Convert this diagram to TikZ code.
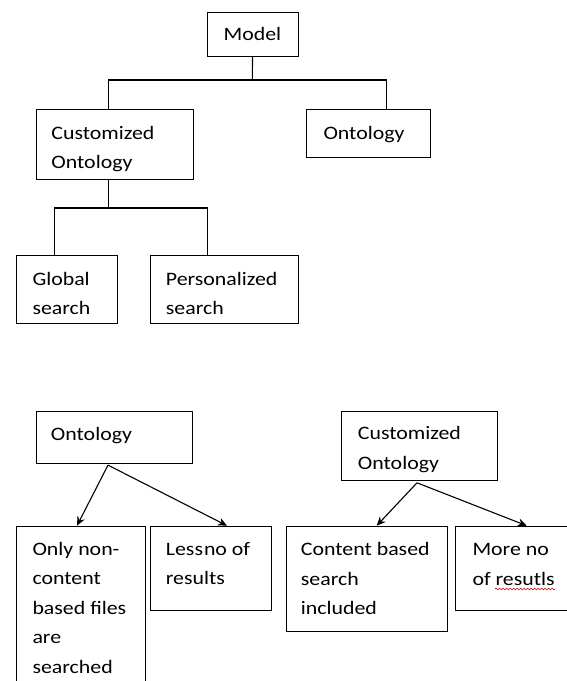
\documentclass[tikz,border=0pt]{standalone}
\usepackage{fontspec}
\setmainfont{Carlito}[FakeStretch=1.15]
\usetikzlibrary{arrows.meta,decorations.pathmorphing}
\tikzset{
  box/.style={draw, line width=1.1pt, anchor=north west, inner sep=0pt},
  txt/.style={anchor=base west, inner sep=0pt, font=\fontsize{19}{29.5}\selectfont},
  conn/.style={line width=1.1pt},
  arr/.style={line width=1.1pt, -{Stealth[length=9pt,width=8pt]}},
}
\newcommand{\lines}[1]{\parbox[t]{160pt}{#1}}
\begin{document}
\begin{tikzpicture}[x=1pt,y=-1pt]
\useasboundingbox (0,0) rectangle (567,681);
\clip (0,0) rectangle (567,681);
% top tree
\node[box, minimum width=91pt, minimum height=43.7pt] (model) at (206.5,12.3) {};
\node[txt] (modelt) at ([xshift=17pt,yshift=-28pt]model.north west) {Model};
\node[box, minimum width=157pt, minimum height=70pt] (cust) at (35.7,109.3) {};
\node[txt] (custt) at ([xshift=15.5pt,yshift=-30pt]cust.north west) {\lines{Customized\\Ontology}};
\node[box, minimum width=124pt, minimum height=47.4pt] (ont) at (306,109.3) {};
\node[txt] (ontt) at ([xshift=17.3pt,yshift=-30.5pt]ont.north west) {Ontology};
\node[box, minimum width=100.5pt, minimum height=68pt] (glob) at (16,255.3) {};
\node[txt] (globt) at ([xshift=16.3pt,yshift=-29.7pt]glob.north west) {\lines{Global\\search}};
\node[box, minimum width=148pt, minimum height=68pt] (pers) at (150,255.3) {};
\node[txt] (perst) at ([xshift=15.7pt,yshift=-29.7pt]pers.north west) {\lines{Personalized\\search}};
\coordinate (j1) at (252.3,80);
\coordinate (j2) at (108.3,208);
\draw[conn] (model.south) -- (j1);
\draw[conn] ([xshift=72.6pt]cust.north west) |- (j1) -| ([xshift=80.7pt]ont.north west);
\draw[conn] ([xshift=72.6pt]cust.south west) -- (j2);
\draw[conn] ([xshift=38.3pt]glob.north west) |- (j2) -| ([xshift=57.3pt]pers.north west);
% bottom left
\node[box, minimum width=156.3pt, minimum height=52pt] (ont2) at (35.7,410.7) {};
\node[txt] (ont2t) at ([xshift=15pt,yshift=-29.3pt]ont2.north west) {Ontology};
\node[box, minimum width=129pt, minimum height=170pt] (only) at (16,525.7) {};
\node[txt] (onlyt) at ([xshift=16.3pt,yshift=-29.3pt]only.north west) {\lines{Only non-\\content\\based files\\are\\searched}};
\node[box, minimum width=121pt, minimum height=84pt] (less) at (150,525.7) {};
\node[txt] (lesst) at ([xshift=15.7pt,yshift=-29.3pt]less.north west) {\lines{Less\kern1pt no of\\results}};
\draw[arr] ([xshift=72.3pt,yshift=-1.3pt]ont2.south west) -- ([xshift=61pt]only.north west);
\draw[arr] ([xshift=72.3pt,yshift=-1.3pt]ont2.south west) -- ([xshift=77pt]less.north west);
% bottom right
\node[box, minimum width=156.3pt, minimum height=69.5pt] (cust2) at (341,410.7) {};
\node[txt] (cust2t) at ([xshift=16.7pt,yshift=-28.8pt]cust2.north west) {\lines{Customized\\Ontology}};
\node[box, minimum width=160.7pt, minimum height=105pt] (cont) at (286,525.7) {};
\node[txt] (contt) at ([xshift=14.7pt,yshift=-30pt]cont.north west) {\lines{Content based\\search\\included}};
\node[box, minimum width=130pt, minimum height=84.3pt] (more) at (455,525.7) {};
\node[txt] (moret) at ([xshift=17.3pt,yshift=-30pt]more.north west) {\lines{More no\\of resutls}};
\draw[arr] ([xshift=76pt,yshift=-1.5pt]cust2.south west) -- ([xshift=90.7pt]cont.north west);
\draw[arr] ([xshift=76pt,yshift=-1.5pt]cust2.south west) -- ([xshift=71.7pt]more.north west);
\coordinate (sq1) at (495,589);
\coordinate (sq2) at (555,589);
\draw[red!80!black, line width=0.6pt, decorate, decoration={snake, amplitude=0.9pt, segment length=3.5pt}] (sq1) -- (sq2);
\end{tikzpicture}
\end{document}
